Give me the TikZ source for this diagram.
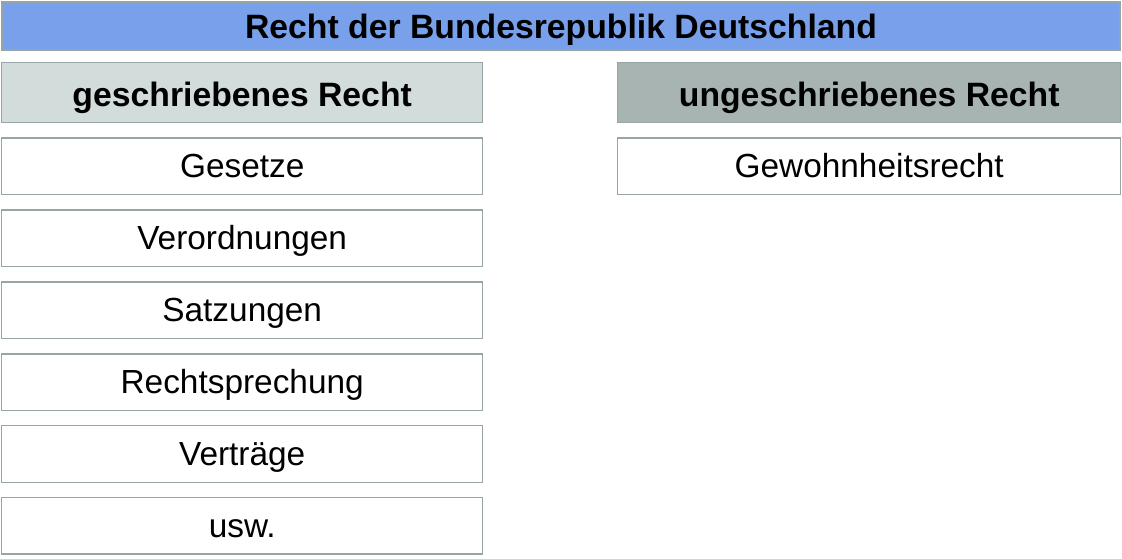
\documentclass[tikz,border=0pt]{standalone}
\usepackage{fontspec}
\setmainfont{Liberation Sans}
\usetikzlibrary{positioning}
\definecolor{rand}{RGB}{150,166,166}
\definecolor{titelblau}{RGB}{120,160,235}
\definecolor{kopfhell}{RGB}{210,220,218}
\definecolor{kopfdunkel}{RGB}{168,180,178}
\tikzset{
	titelbalken/.style={draw=rand, line width=0.8pt, fill=titelblau, minimum width=22.36cm, minimum height=0.96cm, text height=0.56cm, text depth=0.08cm, font=\fontsize{19.2}{22}\selectfont\bfseries},
	kopf/.style={draw=rand, line width=0.8pt, minimum height=1.2cm, text height=0.62cm, text depth=0.06cm, font=\fontsize{19.2}{22}\selectfont\bfseries},
	eintrag/.style={draw=rand, line width=0.8pt, fill=white, minimum width=9.62cm, minimum height=1.13cm, text height=0.54cm, text depth=0.08cm, font=\fontsize{19}{22}\selectfont}
}

\begin{document}
\begin{tikzpicture}
	\useasboundingbox (0,0) rectangle (22.44,-11.16);
	\node[titelbalken] (titel) at (11.22,-0.52) {Recht der Bundesrepublik Deutschland};
	% linke Spalte
	\node[kopf, fill=kopfhell, minimum width=9.62cm, anchor=north west] (geschr) at (0.02,-1.24) {geschriebenes Recht};
	\node[eintrag, below=0.28cm of geschr] (gesetze) {Gesetze};
	\node[eintrag, below=0.28cm of gesetze] (verord) {Verordnungen};
	\node[eintrag, below=0.28cm of verord] (satz) {Satzungen};
	\node[eintrag, below=0.28cm of satz] (rspr) {Rechtsprechung};
	\node[eintrag, below=0.28cm of rspr] (vertr) {Verträge};
	\node[eintrag, below=0.28cm of vertr] (usw) {usw.};
	% rechte Spalte
	\node[kopf, fill=kopfdunkel, minimum width=10.06cm, anchor=north west] (ungeschr) at (12.34,-1.24) {ungeschriebenes Recht};
	\node[eintrag, minimum width=10.06cm, below=0.28cm of ungeschr] (gewohn) {Gewohnheitsrecht};
\end{tikzpicture}
\end{document}
